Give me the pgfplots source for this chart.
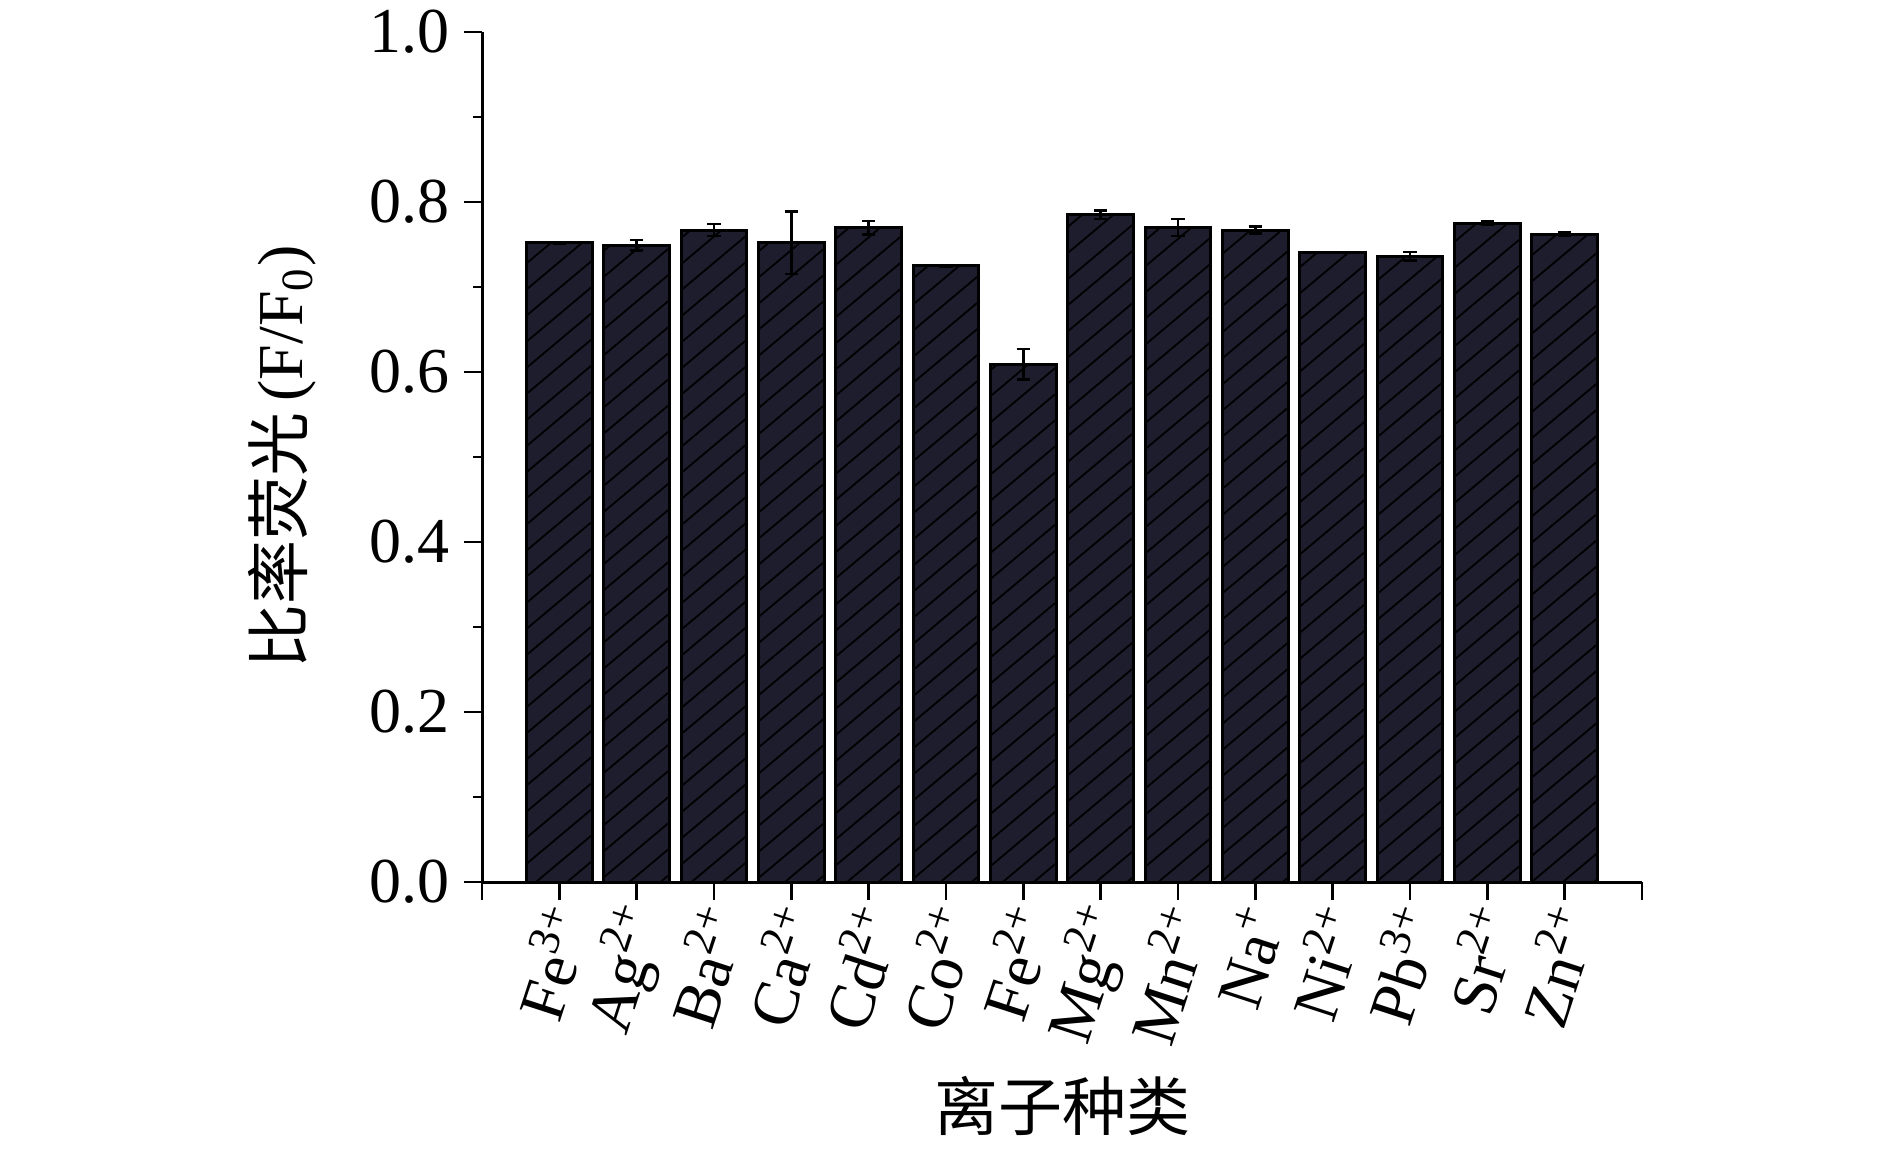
\documentclass[border=0pt]{standalone}
\usepackage{pgfplots}
\pgfplotsset{compat=1.18}
\usepackage{pgfplotstable}
\usetikzlibrary{patterns.meta}
\usepackage{fontspec}
\setmainfont{Liberation Serif}
\newfontfamily\cjk{Noto Sans CJK SC}
\definecolor{barfill}{RGB}{30,29,46}
\newcommand\ion[2]{\textnormal{#1\textsuperscript{#2}}}
\pgfplotstableread{
x y e
1 0.752 0.001
2 0.749 0.006
3 0.767 0.007
4 0.752 0.037
5 0.770 0.008
6 0.725 0.001
7 0.609 0.018
8 0.785 0.005
9 0.770 0.010
10 0.767 0.004
11 0.741 0.000
12 0.736 0.005
13 0.775 0.002
14 0.762 0.002
}\data
\begin{document}
\begin{tikzpicture}
\begin{axis}[
  scale only axis,
  width=290pt, height=212.5pt,
  xmin=0, xmax=15, ymin=0, ymax=1.0,
  axis x line*=bottom, axis y line*=left,
  axis line style={line width=0.75pt, -},
  tick align=outside,
  major tick length=4.5pt, minor tick length=2.2pt,
  tick style={line width=0.6pt, black},
  xtick={1,...,14},
  extra x ticks={0,15}, extra x tick labels={},
  xticklabels={\ion{Fe}{3+},\ion{Ag}{2+},\ion{Ba}{2+},\ion{Ca}{2+},\ion{Cd}{2+},\ion{Co}{2+},\ion{Fe}{2+},\ion{Mg}{2+},\ion{Mn}{2+},\ion{Na}{+},\ion{Ni}{2+},\ion{Pb}{3+},\ion{Sr}{2+},\ion{Zn}{2+}},
  xticklabel style={rotate=72, anchor=east, font=\fontsize{16}{18}\selectfont, inner sep=1pt, yshift=-3pt},
  ytick={0,0.2,0.4,0.6,0.8,1.0},
  minor y tick num=1,
  yticklabel style={font=\fontsize{16}{19}\selectfont},
  /pgf/number format/.cd, fixed, fixed zerofill, precision=1, assume math mode=true,
  /pgfplots/.cd,
  xlabel={\cjk 离子种类},
  ylabel={\cjk 比率荧光\,\rmfamily(F/F\textsubscript{0})},
  xlabel style={font=\fontsize{16}{19}\selectfont, at={(axis description cs:0.5,-0.2635)}, anchor=center},
  ylabel style={font=\fontsize{16}{19}\selectfont, at={(axis description cs:-0.1724,0.5)}, anchor=center},
  clip=false,
]
\addplot[ybar, bar width=0.85, bar shift=0pt, draw=black, line width=0.75pt,
  fill=barfill,
  postaction={pattern={Lines[angle=40,distance=5pt,line width=0.45pt]}, pattern color=black},
  error bars/.cd, y dir=both, y explicit,
  error bar style={line width=0.6pt, black},
  error mark options={rotate=90, mark size=1.7pt, line width=0.6pt, black}]
  table[x=x, y=y, y error=e] {\data};
\end{axis}
\pgfresetboundingbox
\useasboundingbox (-120.5pt,-66.75pt) rectangle (352pt,220.5pt);
\end{tikzpicture}
\end{document}
